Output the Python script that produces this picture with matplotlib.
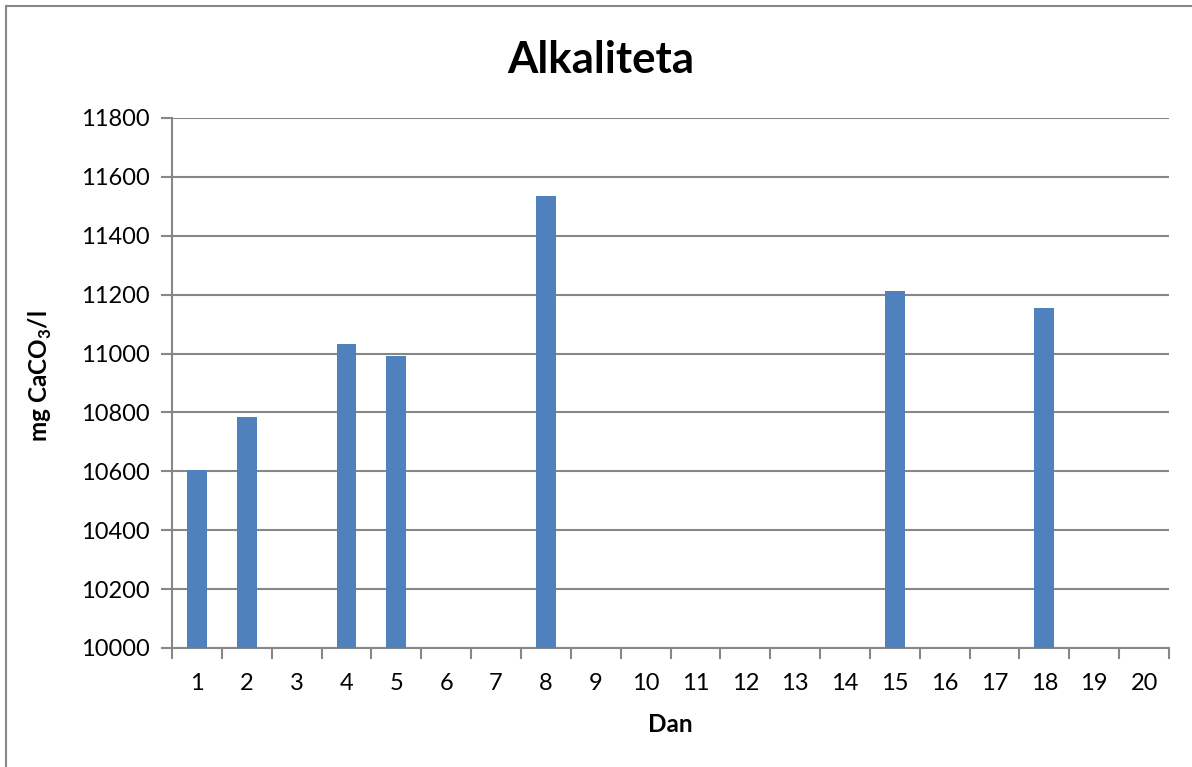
import matplotlib
matplotlib.use('Agg')
import matplotlib.pyplot as plt
from matplotlib.patches import Rectangle
from matplotlib.ticker import MultipleLocator, FixedLocator

# measured alkalinity per day (mg CaCO3/l); days without a value are left empty
days = [1, 2, 4, 5, 8, 15, 18]
alkalinity = [10603, 10786, 11034, 10993, 11534, 11213, 11155]
day_labels = [str(d) for d in range(1, 21)]

plt.rcParams['font.family'] = ['Lato', 'DejaVu Sans']
plt.rcParams['mathtext.fontset'] = 'custom'
plt.rcParams['mathtext.rm'] = 'Lato'
plt.rcParams['mathtext.bf'] = 'Lato:bold'

GRID = '#878787'
BAR = '#4F81BD'

fig = plt.figure(figsize=(11.92, 7.67), dpi=100)
ax = fig.add_axes([172 / 1192, 1 - 648 / 767, (1169 - 172) / 1192, (648 - 118) / 767])

ax.bar(days, alkalinity, width=0.4, color=BAR, zorder=3)

ax.set_xlim(0.5, 20.5)
ax.set_ylim(10000, 11800)
ax.yaxis.set_major_locator(MultipleLocator(200))
ax.grid(axis='y', color=GRID, linewidth=1.5, zorder=0)

# category labels centred, tick marks between categories
ax.set_xticks(range(1, 21))
ax.set_xticklabels(day_labels)
ax.xaxis.set_minor_locator(FixedLocator([x + 0.5 for x in range(0, 21)]))
ax.tick_params(axis='x', which='major', length=0, pad=18, labelsize=17)
ax.tick_params(axis='x', which='minor', length=8, width=1.5, color=GRID)
ax.tick_params(axis='y', length=8, width=1.5, color=GRID, labelsize=17, pad=8)

for side in ('top', 'right'):
    ax.spines[side].set_visible(False)
for side in ('left', 'bottom'):
    ax.spines[side].set_color(GRID)
    ax.spines[side].set_linewidth(1.5)

fig.text(601 / 1192, 1 - 60 / 767, 'Alkaliteta', ha='center', va='center',
         fontsize=31.5, fontweight='bold')
fig.text(670 / 1192, 1 - 724 / 767, 'Dan', ha='center', va='center',
         fontsize=17.5, fontweight='bold')
fig.text(40 / 1192, 1 - 376 / 767, r'mg CaCO$_{\mathbf{3}}$/l', ha='center', va='center',
         rotation=90, fontsize=17.5, fontweight='bold')

# chart frame
fig.patches.append(Rectangle((6 / 1192, -0.1), 1.2, 1.1 - 6 / 767,
                             transform=fig.transFigure, fill=False,
                             edgecolor=GRID, linewidth=1.5))

fig.savefig('out.png', dpi=100)
